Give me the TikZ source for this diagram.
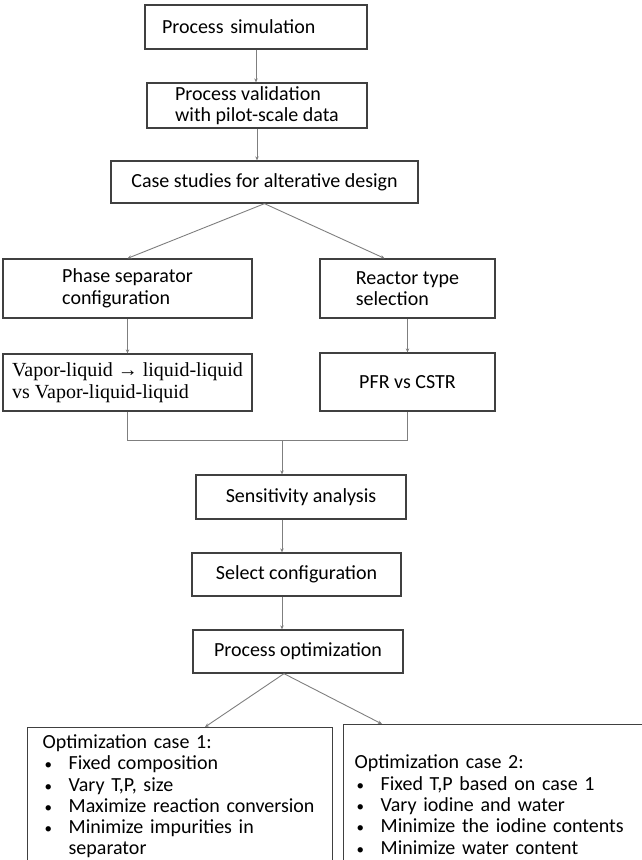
\documentclass[tikz,border=0pt]{standalone}
\usepackage{fontspec}
\setmainfont{Carlito}
\newfontfamily\timesfont{Liberation Serif}
\usetikzlibrary{arrows.meta, calc}

\definecolor{boxgray}{HTML}{404040}
\definecolor{linkgray}{HTML}{7F7F7F}

\tikzset{
  box/.style={draw=boxgray, line width=1.3pt, align=left, inner sep=2pt,
    font=\fontsize{20}{21.6}\selectfont},
  serifbox/.style={box, font=\timesfont\fontsize{20}{21.6}\selectfont},
  casebox/.style={box, anchor=north west, font=\fontsize{20}{21.3}\selectfont},
  link/.style={draw=linkgray, line width=0.9pt, -{Stealth[length=4pt, width=3.5pt]}},
  mergeline/.style={draw=linkgray, line width=0.9pt}
}

\newcommand{\caseitem}{\hspace*{2pt}\makebox[24pt][l]{{\fontsize{15}{15}\selectfont\textbullet}}}

\begin{document}
\begin{tikzpicture}[x=1pt, y=-1pt]
    \useasboundingbox (0,0) rectangle (642,860);
    \clip (0,0) rectangle (642,860);

    % Top chain
    \node[box, minimum width=222pt, minimum height=44pt, text width=188pt, inner xsep=17pt] (sim) at (256,27) {Process simulation};
    \node[box, minimum width=220pt, minimum height=45pt] (valid) at (257,105.5) {Process validation\\with pilot-scale data};
    \node[box, minimum width=307pt, minimum height=42pt] (case) at (264.5,182) {Case studies for alterative design};

    % Two branches
    \node[box, minimum width=249pt, minimum height=59pt] (phase) at (127.5,288.5) {Phase separator\\configuration};
    \node[box, minimum width=175pt, minimum height=59pt] (reactor) at (407.5,288.5) {Reactor type\\selection};
    \node[serifbox, minimum width=249pt, minimum height=57pt] (vapor) at (127.5,382.5) {Vapor-liquid → liquid-liquid\\vs Vapor-liquid-liquid};
    \node[box, minimum width=175pt, minimum height=58pt] (pfr) at (407.5,382) {PFR vs CSTR};

    % Lower chain
    \coordinate (merge) at (282,440);
    \node[box, minimum width=210pt, minimum height=44pt] (sens) at (301,497) {Sensitivity analysis};
    \node[box, minimum width=209pt, minimum height=43pt] (select) at (296.5,574.5) {Select configuration};
    \node[box, minimum width=210pt, minimum height=43pt] (opt) at (298,651.5) {Process optimization};

    % Optimization cases
    \node[casebox, text width=275pt, inner xsep=15pt, inner ysep=7pt] (case1) at (27,727) {%
        Optimization case 1:\\
        \caseitem Fixed composition\\
        \caseitem Vary T,P, size\\
        \caseitem Maximize reaction conversion\\
        \caseitem Minimize impurities in\\
        \hspace*{26pt}separator};
    \node[casebox, text width=320pt, inner xsep=11pt, inner ysep=18pt, minimum height=160pt] (case2) at (343,724) {%
        Optimization case 2:\\
        \caseitem Fixed T,P based on case 1\\
        \caseitem Vary iodine and water\\
        \caseitem Minimize the iodine contents\\
        \caseitem Minimize water content};

    % Connectors
    \draw[link] (sim.south) -- (sim.south |- valid.north);
    \draw[link] (valid.south) -- (valid.south |- case.north);
    \draw[link] (case.south) -- (phase.north);
    \draw[link] (case.south) -- ($(reactor.north)+(-23,0)$);
    \draw[link] (phase.south) -- (phase.south |- vapor.north);
    \draw[link] (reactor.south) -- (reactor.south |- pfr.north);
    \draw[mergeline] (vapor.south) -- (vapor.south |- merge) -- (pfr.south |- merge) -- (pfr.south);
    \draw[link] (merge) -- (merge |- sens.north);
    \draw[link] (sens.south -| merge) -- (merge |- select.north);
    \draw[link] (select.south -| merge) -- (merge |- opt.north);
    \draw[link] ($(opt.south)+(-14,0)$) -- ($(case1.north west)+(178,0)$);
    \draw[link] ($(opt.south)+(-14,0)$) -- ($(case2.north west)+(39,0)$);

\end{tikzpicture}
\end{document}
